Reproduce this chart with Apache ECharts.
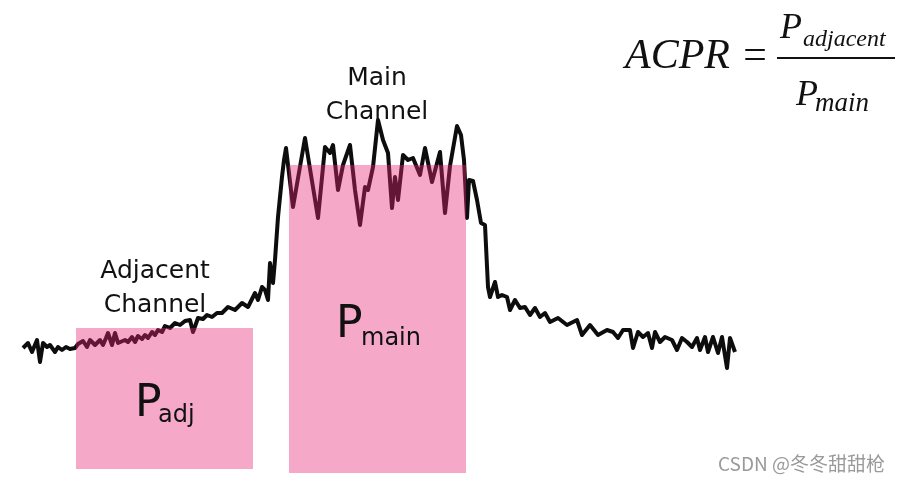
<!DOCTYPE html>
<html>
<head>
<meta charset="utf-8">
<script src="https://cdn.jsdelivr.net/npm/echarts@6/dist/echarts.min.js"></script>
<style>
  html, body { margin: 0; padding: 0; background: #fff; }
  #chart { width: 905px; height: 484px; }
</style>
</head>
<body>
<div id="chart"></div>
<script>
// spectrum trace (frequency in MHz, power in dB)
const freq = [
  2.3, 2.8, 3.2, 3.7, 4.0, 4.3, 4.7, 5.0, 5.5, 5.8, 6.2, 6.6, 7.0, 7.5, 7.8, 8.0, 8.3, 8.7,
  9.0, 9.2, 9.5, 10.0, 10.3, 10.6, 10.8, 11.2, 11.5, 11.8, 12.0, 12.5, 12.8, 13.2, 13.5, 13.8,
  14.2, 14.5, 14.8, 15.2, 15.5, 15.8, 16.2, 16.5, 17.0, 17.5, 18.0, 18.5, 19.0, 19.3, 19.8,
  20.3, 20.7, 21.2, 21.7, 22.2, 22.8, 23.5, 24.2, 24.8, 25.5, 25.8, 26.2, 26.5, 26.8, 27.0,
  27.3, 27.5, 27.8,
  28.2, 28.4, 28.6, 29.3, 30.5, 31.8, 32.5, 33.0, 33.3, 33.8, 34.3, 35.0, 35.5, 36.0, 36.5,
  36.8, 37.3, 37.8, 38.3, 38.8, 39.2, 39.5, 39.8, 40.3, 40.8, 41.3, 42.0, 42.5, 43.2, 44.0,
  44.5, 45.0, 45.7, 46.1, 46.4, 46.7, 46.9, 47.3, 47.7, 48.1, 48.5, 48.8, 49.0, 49.5, 49.8,
  50.2, 50.7, 51.0, 51.5, 52.0, 52.5, 53.0, 53.5, 54.0, 54.5, 55.0, 55.8, 56.7, 57.7, 58.2,
  59.0, 59.8, 60.7, 61.3, 61.8, 62.3, 63.0, 63.3, 63.8, 64.3, 64.8, 65.2, 65.5, 66.0, 66.5,
  67.2, 67.7, 68.2, 68.7, 69.2, 69.7, 70.0, 70.5, 70.8, 71.3, 71.8, 72.2, 72.7, 73.0, 73.5
];
const power = [
  -34.8, -34.3, -35.2, -34.0, -36.2, -34.3, -34.7, -34.5, -35.2, -34.7, -35.0, -34.7, -34.9,
  -34.8, -34.4, -34.6, -34.1, -34.7, -34.0, -33.8, -34.5, -34.0, -34.5, -33.8, -33.3, -34.5,
  -33.3, -34.3, -34.5, -34.0, -34.2, -33.7, -34.2, -33.6, -33.9, -33.5, -33.8, -33.2, -33.5,
  -33.0, -33.2, -32.6, -32.8, -32.3, -32.5, -32.1, -32.0, -33.2, -31.8, -31.9, -31.5, -31.7,
  -31.3, -31.3, -30.7, -31.0, -30.3, -30.7, -29.3, -30.0, -28.7, -29.0, -30.0, -26.3, -28.3,
  -26.0, -21.7,
  -17.7, -16.0, -14.8, -20.7, -13.8, -21.8, -14.7, -15.3, -14.5, -19.0, -16.5, -14.5, -19.0,
  -22.5, -18.7, -19.0, -16.7, -12.0, -14.0, -15.3, -20.8, -17.7, -20.0, -15.5, -16.0, -15.8,
  -17.5, -14.8, -18.2, -15.2, -21.3, -16.6, -12.6, -13.5, -16.0, -21.8, -18.0, -18.1, -20.0,
  -22.3, -22.5, -28.7, -29.7, -28.2, -29.7, -29.5, -29.7, -31.0, -30.0, -30.8, -30.7, -31.5,
  -30.8, -31.7, -31.3, -32.2, -31.8, -32.5, -32.0, -33.5, -32.5, -33.5, -33.0, -33.2, -33.8,
  -33.0, -33.0, -34.8, -33.2, -33.7, -33.3, -34.8, -33.2, -34.2, -33.7, -34.0, -35.0, -33.8,
  -34.2, -34.7, -33.8, -35.0, -33.7, -35.2, -33.7, -35.3, -33.7, -36.8, -33.8, -35.2
];

// channel power blocks: [start MHz, end MHz, top dB, bottom dB]
const channelNames = ['adj', 'main'];
const channelStart = [7.6, 28.9];
const channelEnd = [25.3, 46.6];
const channelTop = [-32.8, -16.5];
const channelBottom = [-46.9, -47.3];

const chart = echarts.init(document.getElementById('chart'));

const trace = freq.map((f, i) => [f, power[i]]);
const blocks = channelNames.map((n, i) => [channelStart[i], channelEnd[i], channelTop[i], channelBottom[i]]);

const labelFont = '"DejaVu Sans", Verdana, sans-serif';
const mathFont = '"Liberation Serif", "Times New Roman", serif';

const option = {
  animation: false,
  backgroundColor: '#fff',
  grid: { left: 0, right: 0, top: 0, bottom: 0 },
  xAxis: { type: 'value', min: 0, max: 90.5, show: false },
  yAxis: { type: 'value', min: -48.4, max: 0, show: false },
  series: [
    {
      type: 'line',
      data: trace,
      symbol: 'none',
      z: 2,
      lineStyle: { color: '#0d0d0d', width: 4, join: 'round' }
    },
    {
      // pink blocks laid over the trace, so the trace shows dark red through them
      type: 'custom',
      z: 5,
      data: blocks,
      encode: { x: [0, 1], y: [2, 3] },
      renderItem: (params, api) => {
        const p0 = api.coord([api.value(0), api.value(2)])
        const p1 = api.coord([api.value(1), api.value(3)])
        return {
          type: 'rect',
          shape: { x: p0[0], y: p0[1], width: p1[0] - p0[0], height: p1[1] - p0[1] },
          style: { fill: 'rgba(232, 38, 118, 0.4)' }
        }
      }
    }
  ],
  graphic: [
    { type: 'text', z: 10, x: 377, y: 95, style: { text: 'Main\nChannel', font: '25px ' + labelFont, fill: '#111', align: 'center', verticalAlign: 'middle', lineHeight: 34 } },
    { type: 'text', z: 10, x: 155, y: 288, style: { text: 'Adjacent\nChannel', font: '25px ' + labelFont, fill: '#111', align: 'center', verticalAlign: 'middle', lineHeight: 34 } },
    { type: 'text', z: 10, x: 336, y: 326, style: { text: 'P', font: '44px ' + labelFont, fill: '#111', verticalAlign: 'middle' } },
    { type: 'text', z: 10, x: 361, y: 339, style: { text: 'main', font: '24px ' + labelFont, fill: '#111', verticalAlign: 'middle' } },
    { type: 'text', z: 10, x: 135, y: 405, style: { text: 'P', font: '44px ' + labelFont, fill: '#111', verticalAlign: 'middle' } },
    { type: 'text', z: 10, x: 158, y: 416, style: { text: 'adj', font: '24px ' + labelFont, fill: '#111', verticalAlign: 'middle' } },
    // ACPR formula
    { type: 'text', z: 10, x: 625, y: 57, style: { text: 'ACPR =', font: 'italic 42px ' + mathFont, fill: '#111', verticalAlign: 'middle' } },
    { type: 'line', z: 10, shape: { x1: 777, y1: 58, x2: 895, y2: 58 }, style: { stroke: '#111', lineWidth: 2 } },
    { type: 'text', z: 10, x: 780, y: 29, style: { text: 'P', font: 'italic 36px ' + mathFont, fill: '#111', verticalAlign: 'middle' } },
    { type: 'text', z: 10, x: 803, y: 40, style: { text: 'adjacent', font: 'italic 24px ' + mathFont, fill: '#111', verticalAlign: 'middle' } },
    { type: 'text', z: 10, x: 796, y: 96, style: { text: 'P', font: 'italic 36px ' + mathFont, fill: '#111', verticalAlign: 'middle' } },
    { type: 'text', z: 10, x: 815, y: 104, style: { text: 'main', font: 'italic 27px ' + mathFont, fill: '#111', verticalAlign: 'middle' } },
    // watermark
    { type: 'text', z: 10, x: 718, y: 464, style: { text: 'CSDN @冬冬甜甜枪', font: '19px "Noto Sans CJK SC", sans-serif', fill: '#9a9a9a', verticalAlign: 'middle' } }
  ]
}

chart.setOption(option)
</script>
</body>
</html>
